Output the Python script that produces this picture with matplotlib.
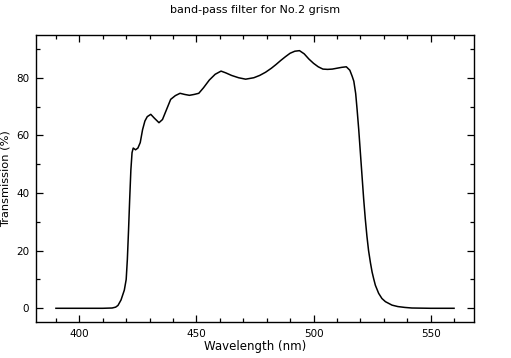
import matplotlib
matplotlib.use("Agg")
import matplotlib.pyplot as plt
from matplotlib.ticker import MultipleLocator

# transmission curve
wavelength = [390, 400, 410, 414, 415.5, 416.5, 417.8, 419.2, 420, 420.5, 421, 421.5,
              422, 422.5, 423, 424, 425, 426, 427, 428, 429, 430.5, 432, 434, 435.5,
              437, 439, 441, 443, 445, 447, 449, 451, 453, 455.5, 458, 460.5, 462.5,
              465, 468, 471, 474.5, 477, 479.5, 482, 484, 486, 488, 490, 492, 494, 496,
              498, 500, 502, 504, 506, 508, 510, 512, 514, 515.5, 516.5, 517.2, 518,
              518.6, 519.3, 520, 520.7, 521.4, 522.1, 522.8, 523.5, 524.3, 525, 525.7,
              526.4, 527.8, 529.2, 530.7, 533.5, 536, 539, 542, 550, 560]
transmission = [0, 0, 0, 0.1, 0.4, 1.0, 2.9, 6.3, 10, 17, 27, 38,
                48, 54, 55.6, 55, 55.6, 57.5, 62, 65, 66.5, 67.3, 66, 64.4, 65.5,
                68.5, 72.5, 73.8, 74.6, 74.2, 73.9, 74.2, 74.6, 76.5, 79.2, 81.2, 82.3, 81.7,
                80.8, 80, 79.5, 80, 80.8, 81.9, 83.3, 84.6, 86, 87.3, 88.5, 89.2, 89.4, 88.3,
                86.5, 85, 83.8, 83, 82.9, 83, 83.3, 83.6, 83.8, 82.6, 80.5, 78.8, 74.5,
                69, 62, 54, 46, 38, 31, 25, 20, 15.8, 12.6, 10.2,
                8, 5.2, 3.4, 2.3, 1.1, 0.6, 0.3, 0.1, 0, 0]

fig = plt.figure(figsize=(5.11, 3.58), dpi=100)
ax = fig.add_axes([0.0705, 0.1006, 0.857, 0.8014])

ax.plot(wavelength, transmission, color="black", lw=1.1)

ax.set_xlim(381.5, 568.5)
ax.set_ylim(-4.75, 94.8)
ax.xaxis.set_major_locator(MultipleLocator(50))
ax.xaxis.set_minor_locator(MultipleLocator(10))
ax.yaxis.set_major_locator(MultipleLocator(20))
ax.yaxis.set_minor_locator(MultipleLocator(10))
ax.tick_params(which="both", direction="in", top=True, right=True,
               labelsize=7.5, width=0.9, pad=5)
ax.tick_params(which="major", length=5)
ax.tick_params(which="minor", length=3)
for s in ax.spines.values():
    s.set_linewidth(1.0)

ax.set_xlabel("Wavelength (nm)", fontsize=8.5, labelpad=1)
ax.set_ylabel("Transmission (%)", fontsize=8.2)
ax.yaxis.set_label_coords(-0.058, 0.5)
fig.suptitle("band-pass filter for No.2 grism", fontsize=8, y=0.985)

fig.savefig("out.png", dpi=100)
